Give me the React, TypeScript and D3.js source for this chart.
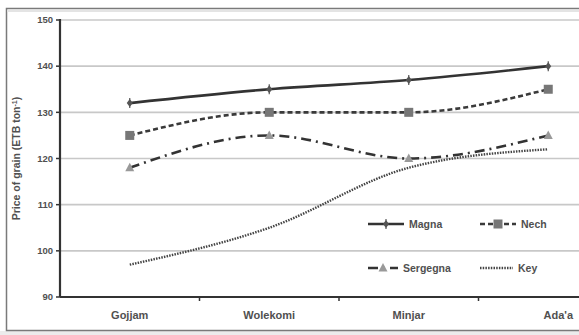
import React from "react";
import * as d3 from "d3";

const categories = ["Gojjam", "Wolekomi", "Minjar", "Ada'a"];
const magna = [132, 135, 137, 140];
const nech = [125, 130, 130, 135];
const sergegna = [118, 125, 120, 125];
const key = [97, 105, 118, 122];
const yTicks = [90, 100, 110, 120, 130, 140, 150];

const W = 579, H = 335;
const left = 60, top = 20, bottom = 297;

export default function App() {
  const x = d3.scaleBand<string>().domain(categories).range([left, 618]);
  const y = d3.scaleLinear().domain([90, 150]).range([bottom, top]);
  const cx = (c: string) => (x(c) as number) + x.bandwidth() / 2;
  const line = d3
    .line<number>()
    .x((_, i) => cx(categories[i]))
    .y((d) => y(d))
    .curve(d3.curveMonotoneX);
  const font = "'Liberation Sans', Arial, sans-serif";
  const txt = "#505050";

  const series = [
    { name: "Magna", data: magna, dash: "none", width: 2.6, color: "#333", marker: "diamond" },
    { name: "Nech", data: nech, dash: "5 3", width: 2.6, color: "#3a3a3a", marker: "square" },
    { name: "Sergegna", data: sergegna, dash: "10 5 2 5", width: 2.6, color: "#333", marker: "triangle" },
    { name: "Key", data: key, dash: "1.5 1.2", width: 2.4, color: "#444", marker: "none" },
  ];

  const marker = (m: string, px: number, py: number, k: string) => {
    if (m === "square")
      return <rect key={k} x={px - 4.5} y={py - 4.5} width={9} height={9} fill="#777" />;
    if (m === "triangle")
      return <path key={k} d={`M${px},${py - 5}L${px + 4.5},${py + 3.5}L${px - 4.5},${py + 3.5}Z`} fill="#999" />;
    if (m === "diamond")
      return (
        <g key={k}>
          <path d={`M${px},${py - 4}L${px + 3},${py}L${px},${py + 4}L${px - 3},${py}Z`} fill="#555" />
          <line x1={px} x2={px} y1={py - 5} y2={py + 5} stroke="#555" strokeWidth={1.2} />
        </g>
      );
    return null;
  };

  const legend = [
    { s: series[0], lx: 368, ly: 224, len: 36 },
    { s: series[1], lx: 480, ly: 224, len: 36 },
    { s: series[2], lx: 368, ly: 268, len: 30 },
    { s: series[3], lx: 480, ly: 268, len: 33 },
  ];

  return (
    <svg width={W} height={H} style={{ position: "absolute", left: 0, top: 0, background: "#fff" }}>
      <rect x={0} y={331} width={W} height={4} fill="#ececec" />
      <rect x={6.5} y={8.5} width={600} height={322} fill="#fff" stroke="#7a7a7a" strokeWidth={1.5} />
      <line x1={7} x2={W} y1={11} y2={11} stroke="#e4e4e4" strokeWidth={2} />
      {yTicks.filter((t) => t > 90).map((t) => (
        <line key={t} x1={left} x2={W} y1={y(t)} y2={y(t)} stroke="#c8c8c8" strokeWidth={1.6} />
      ))}
      {yTicks.map((t) => (
        <g key={"yt" + t}>
          <line x1={left - 4} x2={left} y1={y(t)} y2={y(t)} stroke="#333" strokeWidth={1.5} />
          <text x={left - 7} y={y(t)} dy="0.35em" textAnchor="end" fontSize={9.5} fontWeight="bold" fill={txt} fontFamily={font}>
            {t}
          </text>
        </g>
      ))}
      <text
        transform={`translate(20,${(top + bottom) / 2}) rotate(-90)`}
        textAnchor="middle"
        fontSize={10.5}
        fontWeight="bold"
        fill={txt}
        fontFamily={font}
      >
        Price of grain (ETB ton<tspan dy="-3.5" fontSize={7}>-1</tspan><tspan dy="3.5">)</tspan>
      </text>
      <line x1={left} x2={left} y1={top - 1} y2={bottom} stroke="#333" strokeWidth={2.2} />
      <line x1={left} x2={W} y1={bottom} y2={bottom} stroke="#333" strokeWidth={2.2} />
      {categories.slice(1).map((c) => (
        <line key={"xt" + c} x1={x(c)} x2={x(c)} y1={bottom} y2={bottom + 4} stroke="#333" strokeWidth={1.5} />
      ))}
      {categories.map((c) => (
        <text key={"xl" + c} x={cx(c) + (c === "Ada'a" ? 10 : 0)} y={319} textAnchor="middle" fontSize={11} fontWeight="bold" fill={txt} fontFamily={font}>
          {c}
        </text>
      ))}
      {series.map((s) => (
        <g key={s.name}>
          <path d={line(s.data) || ""} fill="none" stroke={s.color} strokeWidth={s.width} strokeDasharray={s.dash} />
          {s.data.map((v, i) => marker(s.marker, cx(categories[i]), y(v), s.name + i))}
        </g>
      ))}
      {legend.map(({ s, lx, ly, len }) => (
        <g key={"lg" + s.name}>
          <line x1={lx} x2={lx + len} y1={ly} y2={ly} stroke={s.color} strokeWidth={s.width} strokeDasharray={s.dash} />
          {marker(s.marker, lx + len / 2, ly, "lm" + s.name)}
          <text x={lx + len + 5} y={ly} dy="0.35em" fontSize={10.5} fontWeight="bold" fill={txt} fontFamily={font}>
            {s.name}
          </text>
        </g>
      ))}
    </svg>
  );
}
